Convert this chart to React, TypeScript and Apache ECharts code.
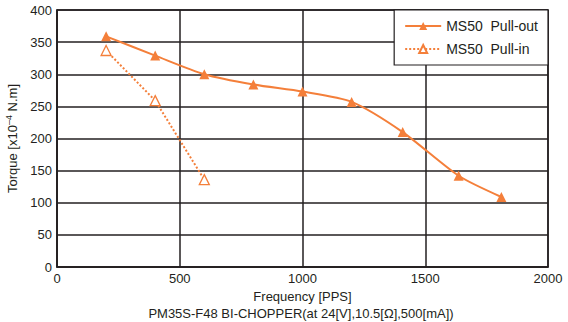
import React, { useEffect, useRef } from "react";
import * as echarts from "echarts";

const pullOutFreq = [200, 400, 600, 800, 1000, 1200, 1408, 1636, 1810];
const pullOutTorque = [359, 329, 300, 284, 273, 257, 210, 142, 109];
const pullInFreq = [200, 400, 600];
const pullInTorque = [337, 259, 136];
const seriesNames = ["MS50  Pull-out", "MS50  Pull-in"];
const xTitle = "Frequency [PPS]";
const subTitle = "PM35S-F48 BI-CHOPPER(at 24[V],10.5[Ω],500[mA])";

const ORANGE = "#F47F3A";
const INK = "#231F20";
const FONT = "Liberation Sans, Arial, sans-serif";

export default function App() {
  const ref = useRef<HTMLDivElement>(null);
  useEffect(() => {
    const chart = echarts.init(ref.current!, null, { renderer: "svg" });
    chart.setOption({
      animation: false,
      backgroundColor: "#fff",
      textStyle: { fontFamily: FONT, color: INK },
      grid: {
        left: 57,
        top: 10,
        right: 20,
        bottom: 55,
        containLabel: false,
        outerBoundsMode: "none",
        show: true,
        borderColor: INK,
        borderWidth: 1.5,
      },
      legend: {
        orient: "vertical",
        right: 20,
        top: 10,
        padding: [9, 10, 9, 10],
        itemGap: 9,
        itemWidth: 36,
        itemHeight: 10,
        backgroundColor: "#fff",
        borderColor: INK,
        borderWidth: 1.2,
        textStyle: { fontFamily: FONT, fontSize: 14, color: INK },
        data: seriesNames,
      },
      xAxis: {
        type: "value",
        min: 0,
        max: 2000,
        interval: 500,
        name: xTitle,
        nameLocation: "middle",
        nameGap: 21,
        nameTextStyle: { fontFamily: FONT, fontSize: 13, color: INK },
        axisLine: { show: true, lineStyle: { color: INK, width: 1.5 } },
        axisTick: { show: false },
        axisLabel: { fontFamily: FONT, fontSize: 13, color: INK, margin: 5, formatter: (v: number) => String(v) },
        splitLine: { show: true, lineStyle: { color: INK, width: 1.5 } },
      },
      yAxis: {
        type: "value",
        min: 0,
        max: 400,
        interval: 50,
        name: "{a|Torque [x10}{s|–4}{a| N.m]}",
        nameLocation: "middle",
        nameGap: 30,
        nameTextStyle: {
          fontFamily: FONT,
          fontSize: 13,
          color: INK,
          rich: {
            a: { fontFamily: FONT, fontSize: 13, color: INK, verticalAlign: "bottom", lineHeight: 15 },
            s: { fontFamily: FONT, fontSize: 9, color: INK, verticalAlign: "top", lineHeight: 15 },
          },
        },
        axisLine: { show: true, lineStyle: { color: INK, width: 1.5 } },
        axisTick: { show: false },
        axisLabel: { fontFamily: FONT, fontSize: 13, color: INK, margin: 5, formatter: (v: number) => String(v) },
        splitLine: { show: true, lineStyle: { color: INK, width: 1.5 } },
      },
      series: [
        {
          name: seriesNames[0],
          type: "line",
          smooth: 0.25,
          data: pullOutFreq.map((f, i) => [f, pullOutTorque[i]]),
          symbol: "triangle",
          symbolSize: 10,
          itemStyle: { color: ORANGE },
          lineStyle: { color: ORANGE, width: 2 },
        },
        {
          name: seriesNames[1],
          type: "line",
          data: pullInFreq.map((f, i) => [f, pullInTorque[i]]),
          symbol: "triangle",
          symbolSize: 10,
          itemStyle: { color: "#fff", borderColor: ORANGE, borderWidth: 1.3 },
          lineStyle: { color: ORANGE, width: 2, type: [2, 2] },
        },
      ],
      graphic: [
        {
          type: "text",
          x: 301,
          y: 313,
          style: {
            text: subTitle,
            fontFamily: FONT,
            fontSize: 13,
            fill: INK,
            textAlign: "center",
            textVerticalAlign: "middle",
          },
        },
      ],
    });
    return () => chart.dispose();
  }, []);
  return <div ref={ref} style={{ position: "fixed", left: 0, top: 0, width: 568, height: 322 }} />;
}
